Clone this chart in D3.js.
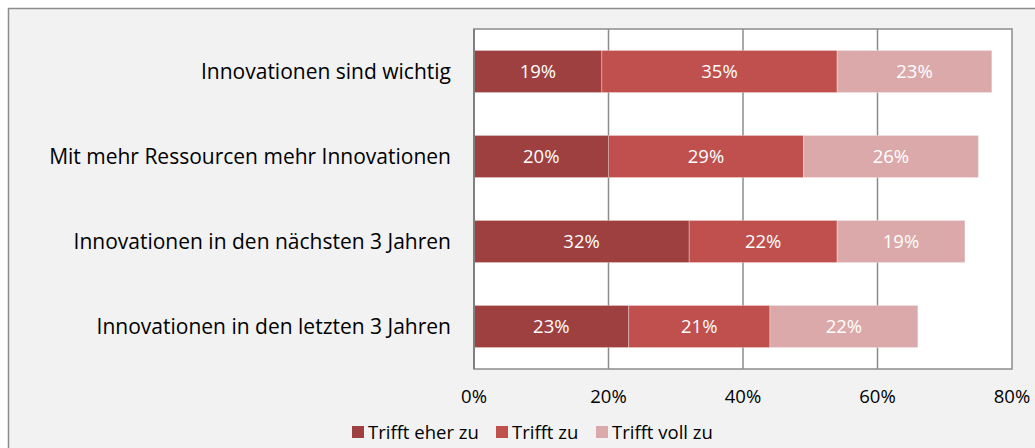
<!DOCTYPE html>
<html>
<head>
<meta charset="utf-8">
<script src="https://cdn.jsdelivr.net/npm/d3@7"></script>
<style>
  body { margin: 0; background: #fff; }
  svg { display: block; font-family: "Open Sans", "Noto Sans", sans-serif; }
</style>
</head>
<body>
<svg id="chart" width="1035" height="448"></svg>
<script>
// categories, top to bottom
const categories = [
    "Innovationen sind wichtig",
    "Mit mehr Ressourcen mehr Innovationen",
    "Innovationen in den nächsten 3 Jahren",
    "Innovationen in den letzten 3 Jahren"
];
const seriesNames = ["Trifft eher zu", "Trifft zu", "Trifft voll zu"];
const eherZu = [19, 20, 32, 23];
const zu = [35, 29, 22, 21];
const vollZu = [23, 26, 19, 22];
const xTicks = [0, 20, 40, 60, 80];
const colors = ["#9e403f", "#c0504d", "#dba9a9"];

const svg = d3.select("#chart");

// outer frame
svg.append("rect")
    .attr("x", 8.5).attr("y", 8.5)
    .attr("width", 1040).attr("height", 450)
    .attr("fill", "#f2f2f2")
    .attr("stroke", "#8c8c8c")
    .attr("stroke-width", 1.5);

const plot = { left: 474, right: 1012, top: 29, bottom: 369 };

const x = d3.scaleLinear().domain([0, 80]).range([plot.left, plot.right]);
const y = d3.scaleBand().domain(categories).range([plot.top, plot.bottom]).paddingInner(0.505).paddingOuter(0.2525);

svg.append("rect")
    .attr("x", plot.left).attr("y", plot.top)
    .attr("width", plot.right - plot.left).attr("height", plot.bottom - plot.top)
    .attr("fill", "#fff")
    .attr("stroke", "#8c8c8c")
    .attr("stroke-width", 1.5);

// gridlines
svg.append("g")
    .selectAll("line")
    .data(xTicks.slice(1, -1))
    .join("line")
    .attr("x1", d => x(d)).attr("x2", d => x(d))
    .attr("y1", plot.top).attr("y2", plot.bottom)
    .attr("stroke", "#8c8c8c")
    .attr("stroke-width", 1.5);

const rows = categories.map((c, i) => ({ cat: c, vals: [eherZu[i], zu[i], vollZu[i]] }));
const stacked = d3.stack().keys([0, 1, 2]).value((d, k) => d.vals[k])(rows);

const layer = svg.append("g")
    .selectAll("g")
    .data(stacked)
    .join("g")
    .attr("fill", (d, i) => colors[i]);

layer.selectAll("rect")
    .data(d => d)
    .join("rect")
    .attr("x", d => x(d[0]))
    .attr("y", d => y(d.data.cat))
    .attr("width", d => x(d[1]) - x(d[0]))
    .attr("height", y.bandwidth())
    .attr("stroke", "rgba(255,255,255,0.3)")
    .attr("stroke-width", 1);

layer.selectAll("text")
    .data(d => d)
    .join("text")
    .attr("x", d => (x(d[0]) + x(d[1])) / 2)
    .attr("y", d => y(d.data.cat) + y.bandwidth() / 2)
    .attr("dy", "0.36em")
    .attr("text-anchor", "middle")
    .attr("fill", "#fff")
    .attr("font-size", 18.5)
    .text(d => (d[1] - d[0]) + "%");

// left axis line
svg.append("line")
    .attr("x1", plot.left).attr("x2", plot.left)
    .attr("y1", plot.top).attr("y2", plot.bottom)
    .attr("stroke", "#7f7f7f")
    .attr("stroke-width", 2);

// category labels
svg.append("g")
    .selectAll("text")
    .data(categories)
    .join("text")
    .attr("x", 451)
    .attr("y", d => y(d) + y.bandwidth() / 2)
    .attr("dy", "0.36em")
    .attr("text-anchor", "end")
    .attr("fill", "#000")
    .attr("font-size", 21)
    .text(d => d);

// x tick labels
svg.append("g")
    .selectAll("text")
    .data(xTicks)
    .join("text")
    .attr("x", d => x(d))
    .attr("y", 396)
    .attr("dy", "0.36em")
    .attr("text-anchor", "middle")
    .attr("fill", "#000")
    .attr("font-size", 18.5)
    .text(d => d + "%");

// legend
const legendX = [352, 496, 596];
const legend = svg.append("g")
    .selectAll("g")
    .data(seriesNames)
    .join("g")
    .attr("transform", (d, i) => `translate(${legendX[i]},432)`);

legend.append("rect")
    .attr("x", 0).attr("y", -6)
    .attr("width", 12).attr("height", 12)
    .attr("fill", (d, i) => colors[i]);

legend.append("text")
    .attr("x", 16)
    .attr("dy", "0.36em")
    .attr("fill", "#000")
    .attr("font-size", 18.5)
    .text(d => d);
</script>
</body>
</html>
